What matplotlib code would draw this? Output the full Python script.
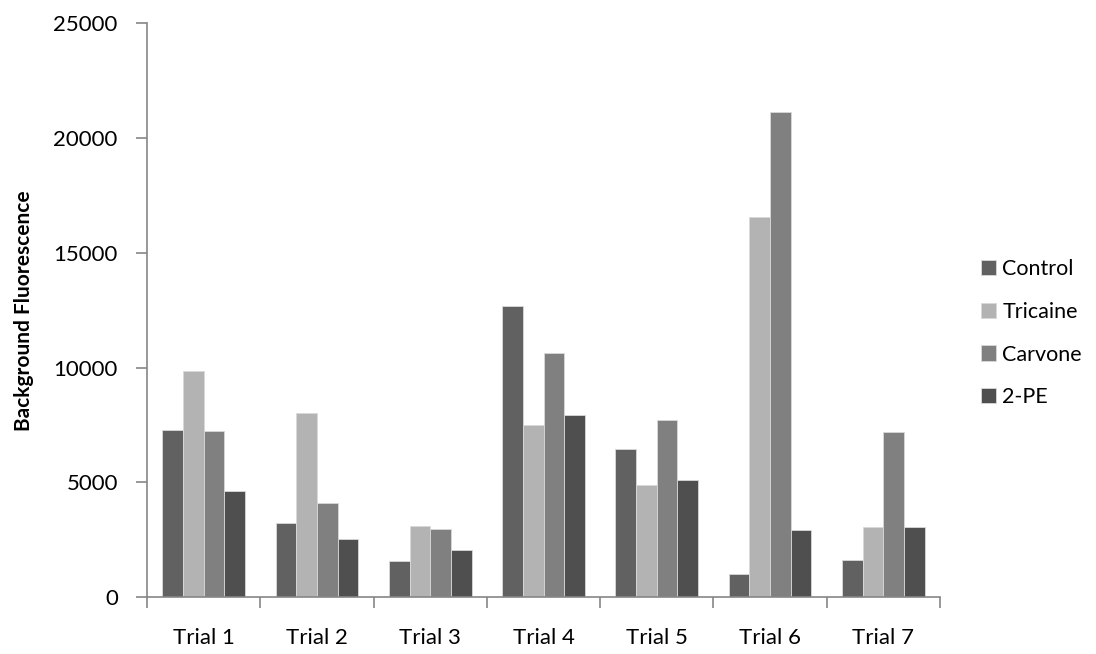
import numpy as np
import matplotlib.pyplot as plt

plt.rcParams['font.family'] = ['Lato', 'DejaVu Sans']

trials = ['Trial 1', 'Trial 2', 'Trial 3', 'Trial 4', 'Trial 5', 'Trial 6', 'Trial 7']
control = [7270, 3230, 1570, 12700, 6480, 1020, 1630]
tricaine = [9870, 8030, 3100, 7500, 4870, 16550, 3040]
carvone = [7230, 4090, 2960, 10660, 7740, 21120, 7190]
pe2 = [4640, 2550, 2040, 7930, 5100, 2930, 3070]

series = [('Control', control, '#616161'),
          ('Tricaine', tricaine, '#b3b3b3'),
          ('Carvone', carvone, '#808080'),
          ('2-PE', pe2, '#4f4f4f')]

fs = 16

fig = plt.figure(figsize=(10.96, 6.54), dpi=100)
ax = fig.add_axes([0.1341, 0.0867, 0.7236, 0.8777])

x = np.arange(len(trials))
w = 0.1825
for i, (name, vals, col) in enumerate(series):
    ax.bar(x + (i - 1.5) * w, vals, width=w, color=col, edgecolor='#d9d9d9',
           linewidth=0.6, label=name)

axis_col = '#868686'
ax.set_xlim(-0.5, len(trials) - 0.5)
ax.set_ylim(0, 25000)
ax.set_yticks(np.arange(0, 25001, 5000))
ax.set_xticks(np.arange(-0.5, len(trials), 1.0))
ax.set_xticklabels([])
ax.set_xticks(x, minor=True)
ax.set_xticklabels(trials, minor=True, fontsize=fs)
ax.tick_params(axis='x', which='minor', length=0, pad=22)
ax.tick_params(axis='x', which='major', length=8, color=axis_col, width=1.2)
ax.tick_params(axis='y', length=8, color=axis_col, width=1.2, pad=13, labelsize=fs)

for side in ['top', 'right']:
    ax.spines[side].set_visible(False)
for side in ['left', 'bottom']:
    ax.spines[side].set_color(axis_col)
    ax.spines[side].set_linewidth(1.2)

ax.set_ylabel('Background Fluorescence', fontsize=15, fontweight='bold', labelpad=14)

ax.legend(loc='center left', bbox_to_anchor=(1.027, 0.46), frameon=False,
          fontsize=15.5, handlelength=0.7, handleheight=0.7,
          handletextpad=0.3, labelspacing=1.05)

fig.savefig('out.png', dpi=100)
